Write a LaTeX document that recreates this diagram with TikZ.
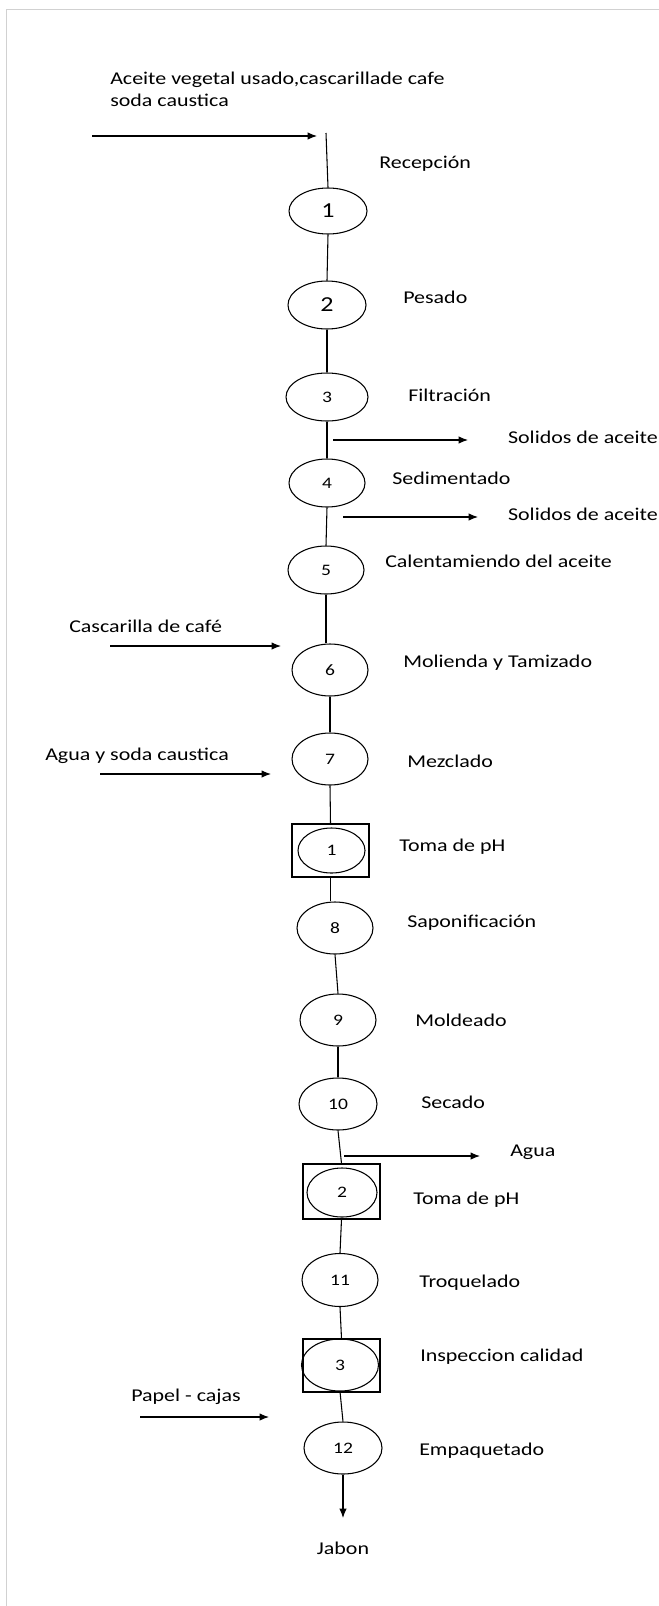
\documentclass[tikz,border=0pt]{standalone}
\usepackage{fontspec}
\setmainfont{Carlito}[FakeStretch=1.22]
\usetikzlibrary{shapes.geometric,arrows.meta}
\tikzset{
  proc/.style={draw, ellipse, line width=0.8pt, inner sep=0pt, font=\fontsize{12}{14}\selectfont},
  bigproc/.style={proc, font=\fontsize{16}{18}\selectfont},
  chk/.style={draw, rectangle, line width=0.8pt, inner sep=0pt},
  sz/.style 2 args={minimum width=0.75*#1, minimum height=0.75*#2},
  lbl/.style={anchor=west, inner sep=0pt, font=\fontsize{13.5}{16}\selectfont},
  flow/.style={line width=0.8pt},
  io/.style={line width=0.8pt, -{Latex[length=7pt,width=5.5pt]}},
  frame/.style={draw=black!18, line width=0.8pt}
}
\begin{document}
\begin{tikzpicture}[x=0.75pt,y=-0.75pt]
\clip (0,0) rectangle (659,1606);
\fill[white] (0,0) rectangle (659,1606);
\draw[frame] (6.5,1620) -- (6.5,9.5) -- (670,9.5);

% process ellipses
\node[bigproc, sz={78}{46}] (e1) at (328,211) {1};
\node[bigproc, sz={78}{48}] (e2) at (327,305) {2};
\node[proc, sz={82}{48}] (e3) at (327,397) {3};
\node[proc, sz={76}{48}] (e4) at (327,483) {4};
\node[proc, sz={76}{48}] (e5) at (326,570) {5};
\node[proc, sz={76}{52}] (e6) at (330,670) {6};
\node[proc, sz={76}{52}] (e7) at (330,759) {7};
\node[chk, sz={77}{53}] (q1) at (330.5,850.5) {};
\node[proc, sz={67}{45}] (qe1) at (331.5,850.5) {1};
\node[proc, sz={76}{52}] (e8) at (335,928) {8};
\node[proc, sz={76}{52}] (e9) at (338,1020) {9};
\node[proc, sz={78}{52}] (e10) at (338,1104) {10};
\node[chk, sz={77}{55}] (q2) at (341.5,1191.5) {};
\node[proc, sz={70}{49}] (qe2) at (342,1192.5) {2};
\node[proc, sz={76}{53}] (e11) at (340,1280) {11};
\node[chk, sz={77}{53}] (q3) at (341.5,1365.5) {};
\node[proc, sz={77}{52}] (qe3) at (340,1365) {3};
\node[proc, sz={78}{52}] (e12) at (343,1448) {12};

% labels
\node[lbl] (l1) at (379,164) {Recepción};
\node[lbl] (l2) at (403,297) {Pesado};
\node[lbl] (l3) at (408,395) {Filtración};
\node[lbl] (l4) at (392,478) {Sedimentado};
\node[lbl] (l5) at (385,561) {Calentamiendo del aceite};
\node[lbl] (l6) at (403,663) {Molienda y Tamizado};
\node[lbl] (l7) at (407,761) {Mezclado};
\node[lbl] (lq1) at (399,847) {Toma de pH};
\node[lbl] (l8) at (407,923) {Saponificación};
\node[lbl] (l9) at (415,1020) {Moldeado};
\node[lbl] (l10) at (421,1102) {Secado};
\node[lbl] (lq2) at (413,1200) {Toma de pH};
\node[lbl] (l11) at (419,1283) {Troquelado};
\node[lbl] (lq3) at (420,1357) {Inspeccion calidad};
\node[lbl] (l12) at (419,1451) {Empaquetado};

% inputs / outputs text
\node[lbl] (tin1) at (110,80) {Aceite vegetal usado,cascarillade cafe};
\node[lbl] (tin1b) at (110,100) {soda caustica};
\node[lbl, anchor=east] (tout1) at (658,437) {Solidos de aceite};
\node[lbl, anchor=east] (tout2) at (658,514) {Solidos de aceite};
\node[lbl] (tin6) at (69,626) {Cascarilla de café};
\node[lbl] (tin7) at (45,756) {Agua y soda caustica};
\node[lbl] (tagua) at (510,1152) {Agua};
\node[lbl] (tpapel) at (131,1397) {Papel - cajas};
\node[lbl, anchor=center] (tjabon) at (343,1548) {Jabon};

% coordinates for free ends
\coordinate (top) at (326,133);
\coordinate (a0s) at (92,136);   \coordinate (a0e) at (317,136);
\coordinate (o1s) at (333,440);  \coordinate (o1e) at (468,440);
\coordinate (o2s) at (343,517);  \coordinate (o2e) at (478,517);
\coordinate (i6s) at (110,646);  \coordinate (i6e) at (281,646);
\coordinate (i7s) at (100,774);  \coordinate (i7e) at (271,774);
\coordinate (oas) at (344,1156); \coordinate (oae) at (480,1156);
\coordinate (ips) at (140,1417); \coordinate (ipe) at (269,1417);
\coordinate (fin) at (343,1518);

% main flow
\draw[flow] (top) -- (e1.north);
\draw[flow] (e1.south) -- (e2.north);
\draw[flow] (e2.south) -- (e3.north);
\draw[flow] (e3.south) -- (e4.north);
\draw[flow] (e4.south) -- (e5.north);
\draw[flow] (e5.south) -- (e6.north -| e5.south);
\draw[flow] (e6.south) -- (e7.north);
\draw[flow] (e7.south) -- (q1.north);
\draw[flow] (q1.south) -- (e8.north -| q1.south);
\draw[flow] (e8.south) -- (e9.north);
\draw[flow] (e9.south) -- (e10.north);
\draw[flow] (e10.south) -- (q2.north);
\draw[flow] (q2.south) -- (e11.north);
\draw[flow] (e11.south) -- (q3.north);
\draw[flow] (qe3.south) -- (e12.north);
\draw[io] (e12.south) -- (fin);

% side arrows
\draw[io] (a0s) -- (a0e);
\draw[io] (o1s) -- (o1e);
\draw[io] (o2s) -- (o2e);
\draw[io] (i6s) -- (i6e);
\draw[io] (i7s) -- (i7e);
\draw[io] (oas) -- (oae);
\draw[io] (ips) -- (ipe);
\end{tikzpicture}
\end{document}
